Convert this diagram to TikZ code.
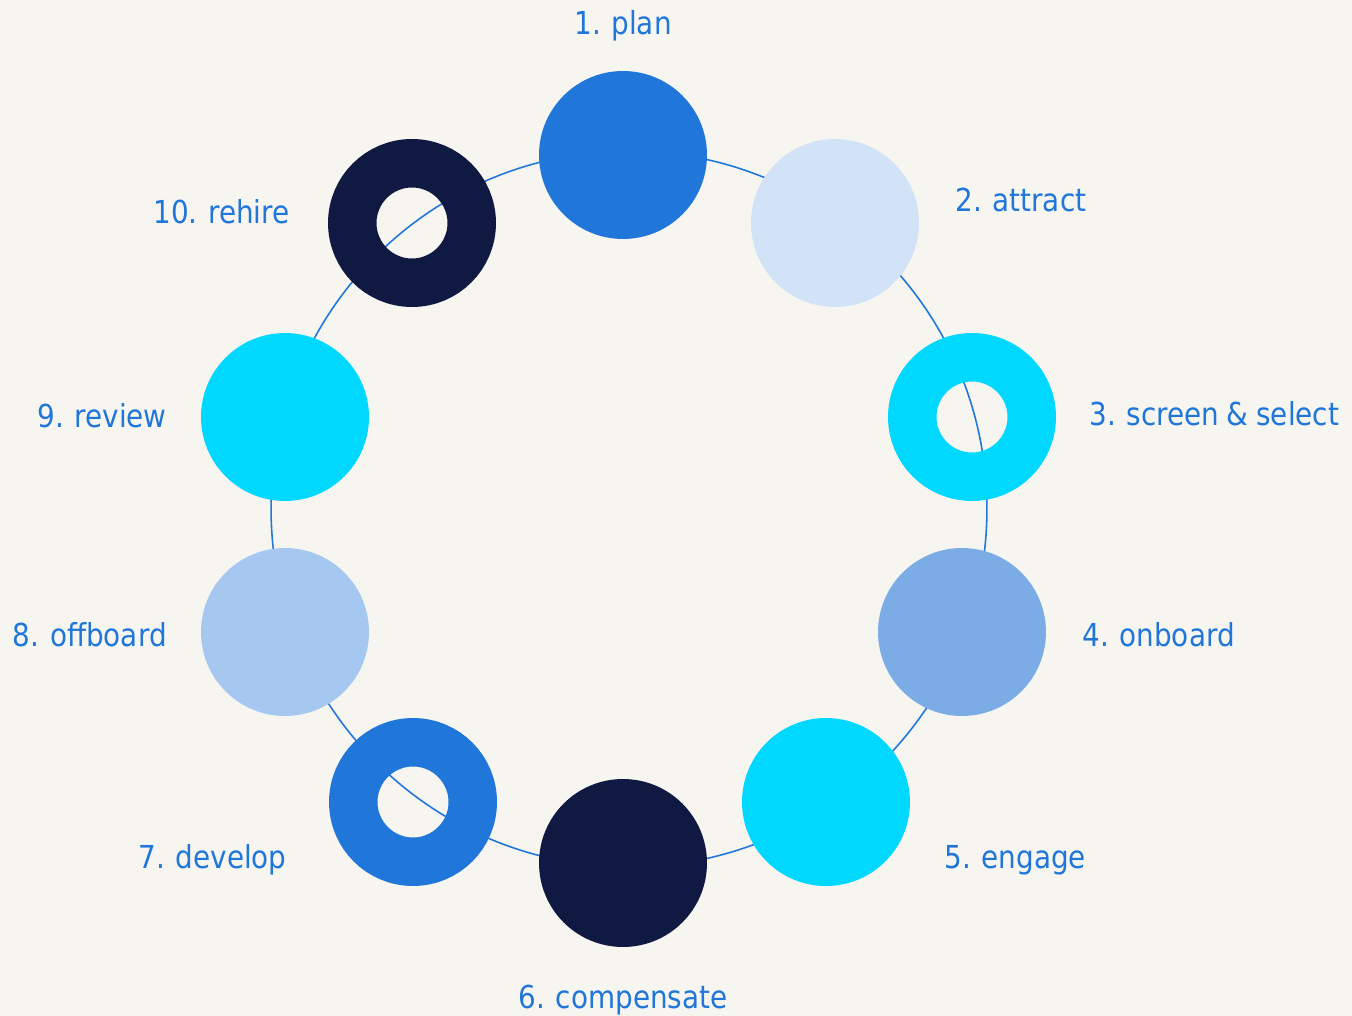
\documentclass[tikz,border=0pt]{standalone}
\usepackage{fontspec}
\usepackage{xcolor}
\usepackage{tikz}
\usetikzlibrary{positioning}

\newfontfamily\lblfont[FakeStretch=0.88, WordSpace=0.88]{DejaVu Sans}

\definecolor{paper}{HTML}{F6F5F0}
\definecolor{brand}{HTML}{2176D9}
\definecolor{pale}{HTML}{D2E3F7}
\definecolor{aqua}{HTML}{00D8FF}
\definecolor{mid}{HTML}{7BACE6}
\definecolor{navy}{HTML}{0F1941}
\definecolor{light}{HTML}{A6C8F0}

\begin{document}
\begin{tikzpicture}[
  x=0.02cm, y=-0.02cm,
  disc/.style={circle, minimum size=3.36cm, inner sep=0pt},
  donut/.style={circle, draw=#1, line width=0.97cm, minimum size=2.39cm, inner sep=0pt},
  lbl/.style={font=\lblfont\fontsize{18}{22}\selectfont, text=brand, inner sep=0pt},
  ringline/.style={draw=brand, line width=0.9pt}
]

% Canvas
\fill[paper] (0,0) rectangle (1352,1016);
\useasboundingbox (0,0) rectangle (1352,1016);

% Cycle ring
\coordinate (hub) at (629,509);
\draw[ringline] (hub) circle[radius=7.16cm];

% Stages
\node[disc, fill=brand] (plan) at (623,155) {};
\node[disc, fill=pale] (attract) at (835,223) {};
\node[donut=aqua] (screen) at (972,417) {};
\node[disc, fill=mid] (onboard) at (962,632) {};
\node[disc, fill=aqua] (engage) at (826,802) {};
\node[disc, fill=navy] (compensate) at (623,863) {};
\node[donut=brand] (develop) at (413,802) {};
\node[disc, fill=light] (offboard) at (285,632) {};
\node[disc, fill=aqua] (review) at (285,417) {};
\node[donut=navy] (rehire) at (412,223) {};

% Labels
\node[lbl, anchor=base] (planlbl) at (623,35) {1. plan};
\node[lbl, anchor=base west] (attractlbl) at (955,212) {2. attract};
\node[lbl, anchor=base west] (screenlbl) at (1089,426) {3. screen \& select};
\node[lbl, anchor=base west] (onboardlbl) at (1082,646) {4. onboard};
\node[lbl, anchor=base west] (engagelbl) at (944,868) {5. engage};
\node[lbl, anchor=base] (compensatelbl) at (623,1008) {6. compensate};
\node[lbl, anchor=base east] (developlbl) at (287,868) {7. develop};
\node[lbl, anchor=base east] (offboardlbl) at (167,646) {8. offboard};
\node[lbl, anchor=base east] (reviewlbl) at (167,428) {9. review};
\node[lbl, anchor=base east] (rehirelbl) at (290,224) {10. rehire};

\end{tikzpicture}
\end{document}
